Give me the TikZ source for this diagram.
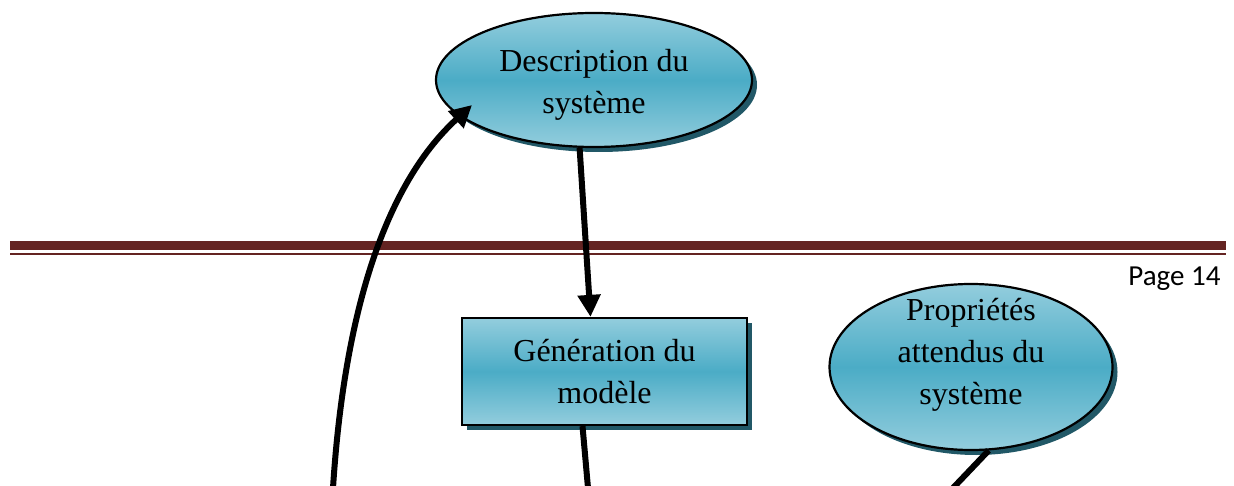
\documentclass[tikz,border=0pt]{standalone}
\usepackage{fontspec}
\setmainfont{Liberation Serif}
\newfontfamily\pagefont{Carlito}
\usetikzlibrary{shapes.geometric,shadows,arrows.meta,calc}
\definecolor{lightc}{RGB}{147,205,221}
\definecolor{midc}{RGB}{75,172,198}
\definecolor{shadc}{RGB}{33,88,103}
\definecolor{rulec}{RGB}{100,36,34}
\tikzset{
  box3d/.style={draw=black, line width=2.2pt, top color=lightc, bottom color=lightc, middle color=midc,
    drop shadow={shadow xshift=5pt, shadow yshift=-5pt, fill=shadc, opacity=1},
    align=center, inner sep=0pt, font=\fontsize{32}{42}\selectfont},
  ell/.style={box3d, ellipse},
  rect/.style={box3d, rectangle},
  conn/.style={line width=6pt},
  arr/.style={conn, -{Triangle[length=22pt,width=22pt]}}
}
\begin{document}
\begin{tikzpicture}[x=1pt,y=-1pt]
\useasboundingbox (0,0) rectangle (1234,486);
% page rule
\fill[rulec] (10,241) rectangle (1226,250);
\fill[rulec] (10,253) rectangle (1226,255.5);
\node[anchor=east, font=\pagefont\fontsize{29}{34}\selectfont] (page) at (1224,279) {Page 14};
% nodes
\node[ell, minimum width=316pt, minimum height=134pt] (desc) at (594,80) {\mbox{}\\[-10pt]Description du\\système};
\node[rect, minimum width=285pt, minimum height=107pt] (gen) at (604.5,371.5) {Génération du\\modèle};
\node[ell, inner ysep=-20pt, minimum width=283pt, minimum height=166pt] (prop) at (971,367) {Propriétés\\attendus du\\système\\[-11pt]\mbox{}};
% free ends
\coordinate (genout) at (588,488);
\coordinate (loopin) at (333,488);
\coordinate (propout) at (953,488);
% connectors
\draw[arr] (desc.258) -- ($(gen.north)+(-14,0)$);
\draw[conn] ($(gen.south)+(-22,0)$) -- (genout);
\draw[arr] (loopin) .. controls (345,300) and (390,180) .. ($(desc.center)+(-122,25)$);
\draw[conn] (prop.282) -- (propout);
\end{tikzpicture}
\end{document}
